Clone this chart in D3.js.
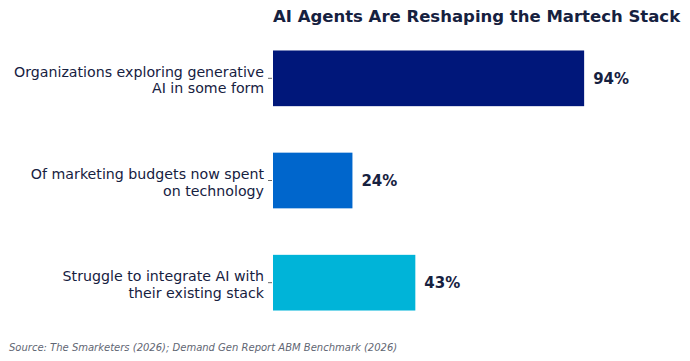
<!DOCTYPE html>
<html>
<head>
<meta charset="utf-8">
<script src="https://cdn.jsdelivr.net/npm/d3@7"></script>
<style>
  body { margin: 0; background: #fff; }
  svg text { font-family: "DejaVu Sans", sans-serif; }
</style>
</head>
<body>
<svg id="chart" width="690" height="361"></svg>
<script>
// data
var categories = [
    ["Organizations exploring generative", "AI in some form"],
    ["Of marketing budgets now spent", "on technology"],
    ["Struggle to integrate AI with", "their existing stack"]
];
var values = [94, 24, 43];
var barColors = ["#00177A", "#0066CC", "#00B4D8"];

var textColor = "#16213F";

var svg = d3.select("#chart");

var x = d3.scaleLinear()
    .domain([0, 100])
    .range([273, 604]);

var y = d3.scaleBand()
    .domain(d3.range(categories.length))
    .range([28, 333])
    .paddingInner(0.455)
    .paddingOuter(0.22);

// title
svg.append("text")
    .attr("x", 273)
    .attr("y", 22)
    .attr("fill", textColor)
    .style("font-size", "16.5px")
    .style("font-weight", "bold")
    .text("AI Agents Are Reshaping the Martech Stack");

// bars
svg.selectAll(".bar")
    .data(values)
    .enter().append("rect")
    .attr("class", "bar")
    .attr("x", x(0))
    .attr("y", function(d, i) { return y(i); })
    .attr("width", function(d) { return x(d) - x(0); })
    .attr("height", y.bandwidth())
    .attr("fill", function(d, i) { return barColors[i]; });

// y axis (ticks only)
var yAxis = d3.axisLeft(y).tickSize(4).tickFormat("");
var gy = svg.append("g")
    .attr("transform", "translate(" + (x(0) - 1) + ",0)")
    .call(yAxis);
gy.select(".domain").remove();
gy.selectAll(".tick line").attr("stroke", "#444").attr("stroke-width", 0.8);

// category labels
var labels = svg.selectAll(".cat")
    .data(categories)
    .enter().append("text")
    .attr("class", "cat")
    .attr("text-anchor", "end")
    .attr("fill", textColor)
    .style("font-size", "14.2px")
    .attr("transform", function(d, i) {
        return "translate(264," + (y(i) + y.bandwidth() / 2) + ")";
    });
labels.selectAll("tspan")
    .data(function(d) { return d; })
    .enter().append("tspan")
    .attr("x", 0)
    .attr("y", function(d, j) { return j === 0 ? -1.5 : 15; })
    .text(function(d) { return d; });

// value labels
svg.selectAll(".val")
    .data(values)
    .enter().append("text")
    .attr("class", "val")
    .attr("x", function(d) { return x(d) + 9; })
    .attr("y", function(d, i) { return y(i) + y.bandwidth() / 2; })
    .attr("dy", "0.35em")
    .attr("fill", textColor)
    .style("font-size", "15px")
    .style("font-weight", "bold")
    .text(function(d) { return d + "%"; });

// source
svg.append("text")
    .attr("x", 9)
    .attr("y", 351)
    .attr("fill", "#5f6673")
    .style("font-size", "10px")
    .style("font-style", "italic")
    .text("Source: The Smarketers (2026); Demand Gen Report ABM Benchmark (2026)");
</script>
</body>
</html>
